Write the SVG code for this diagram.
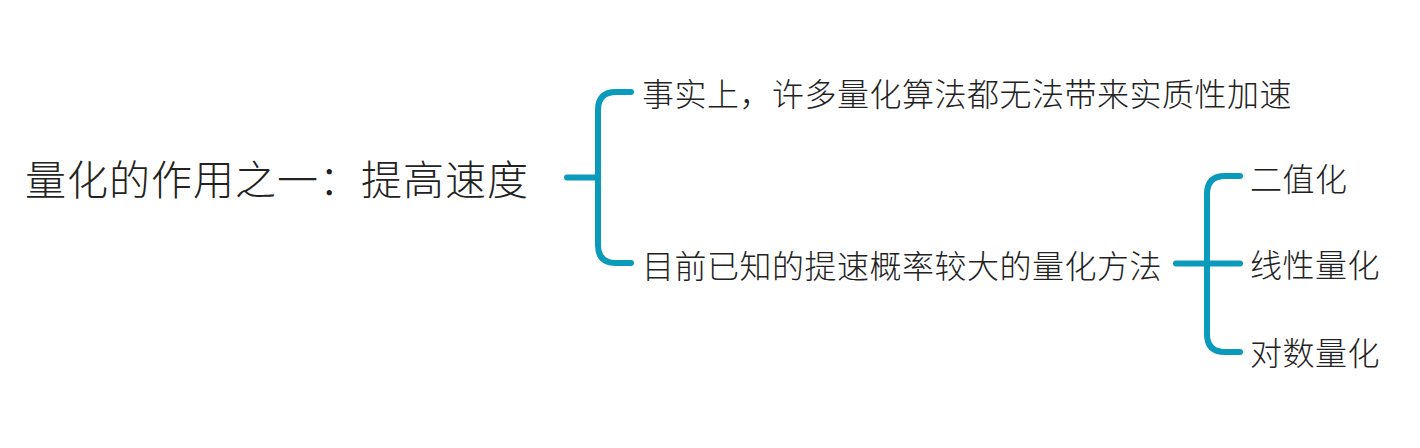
<svg xmlns="http://www.w3.org/2000/svg" width="1420" height="448" viewBox="0 0 1420 448">
<style>
.t{font-family:"Noto Sans CJK SC","Noto Sans",sans-serif;font-weight:300;fill:#222222}
.s{font-size:32px;letter-spacing:0.5px}
.c{fill:none;stroke:#0a9abb;stroke-width:6;stroke-linecap:round;stroke-linejoin:round}
</style>
<rect width="1420" height="448" fill="#ffffff"/>
<g id="connectors">
<path class="c" d="M567 177.5 H598"/>
<path class="c" d="M631 92 H616 Q598 92 598 110 V245 Q598 263 616 263 H631"/>
<path class="c" d="M1176 263.5 H1240"/>
<path class="c" d="M1240 176 H1225 Q1207 176 1207 194 V334 Q1207 352 1225 352 H1240"/>
</g>
<g id="root"><text class="t" x="25" y="195" font-size="41" letter-spacing="1">量化的作用之一：提高速度</text></g>
<g id="n1"><text class="t s" x="642" y="106">事实上，许多量化算法都无法带来实质性加速</text></g>
<g id="n2"><text class="t s" x="642" y="278">目前已知的提速概率较大的量化方法</text></g>
<g id="n3"><text class="t s" x="1250" y="191">二值化</text></g>
<g id="n4"><text class="t s" x="1250" y="277">线性量化</text></g>
<g id="n5"><text class="t s" x="1250" y="365">对数量化</text></g>
</svg>
